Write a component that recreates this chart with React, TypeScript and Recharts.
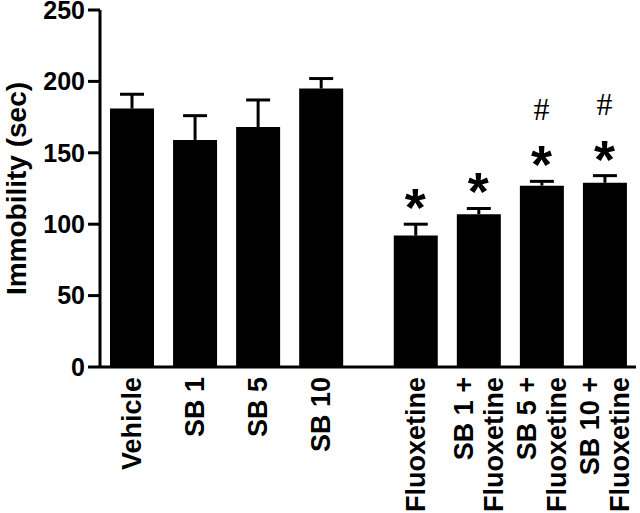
import { BarChart, Bar, XAxis, YAxis, ReferenceDot } from 'recharts'

document.body.style.margin = '0'

const GROUPS = [
  ['Vehicle'],
  ['SB 1'],
  ['SB 5'],
  ['SB 10'],
  ['Fluoxetine'],
  ['SB 1 +', 'Fluoxetine'],
  ['SB 5 +', 'Fluoxetine'],
  ['SB 10 +', 'Fluoxetine'],
]
// x slots, with a wider gap before the fluoxetine groups
const POSITIONS = [1, 2, 3, 4, 5.5, 6.5, 7.5, 8.5]
const MEANS = [181, 159, 168, 195, 92, 107, 127, 129]
const SEMS = [10, 17, 19, 7, 8, 4, 3, 5]
const STAR = [false, false, false, false, true, true, true, true]
const HASH = [false, false, false, false, false, false, true, true]
const Y_TICKS = [0, 50, 100, 150, 200, 250]

const FONT = '"Liberation Sans", Arial, sans-serif'

const data = POSITIONS.map((pos, i) => ({
  pos,
  mean: MEANS[i],
  sem: SEMS[i],
}))

// upper-only error whisker, drawn on the stacked sem segment
function Whisker(props: any) {
  const { x, y, width, height } = props
  if (x == null || y == null) return null
  const cx = x + width / 2
  return (
    <g stroke="#000" strokeWidth={3}>
      <line x1={cx} y1={y + height} x2={cx} y2={y} />
      <line x1={cx - 12} y1={y} x2={cx + 12} y2={y} />
    </g>
  )
}

function GroupTick(props: any) {
  const { x, y, index } = props
  const lines = GROUPS[index] ?? []
  const gap = 30
  return (
    <g>
      {lines.map((line, i) => {
        const lx = x + (i - (lines.length - 1) / 2) * gap
        return (
          <text
            key={i}
            x={lx}
            y={y}
            dy="0.36em"
            textAnchor="end"
            transform={`rotate(-90, ${lx}, ${y})`}
            fontFamily={FONT}
            fontWeight="bold"
            fontSize={27}
            fill="#000"
          >
            {line}
          </text>
        )
      })}
    </g>
  )
}

function YTitle(props: any) {
  const vb = props.viewBox ?? { x: 0, y: 0, height: 0 }
  const cx = 16
  const cy = vb.y + vb.height / 2
  return (
    <text
      x={cx}
      y={cy}
      dy="0.36em"
      textAnchor="middle"
      transform={`rotate(-90, ${cx}, ${cy})`}
      fontFamily={FONT}
      fontWeight="bold"
      fontSize={28}
      fill="#000"
    >
      Immobility (sec)
    </text>
  )
}

function StarMark(props: any) {
  const { x, y } = props.viewBox ?? {}
  return (
    <text x={x} y={y + 2} textAnchor="middle" fontFamily={FONT} fontWeight="bold" fontSize={54} fill="#000">
      *
    </text>
  )
}

function HashMark(props: any) {
  const { x, y } = props.viewBox ?? {}
  return (
    <text x={x} y={y - 61} textAnchor="middle" fontFamily='"Liberation Serif", serif' fontSize={32} fill="#000">
      #
    </text>
  )
}

export default function App() {
  return (
    <BarChart width={640} height={513} data={data} margin={{ top: 10, right: 4, bottom: 0, left: 0 }}>
      <XAxis
        dataKey="pos"
        type="number"
        domain={[0.5, 9]}
        ticks={POSITIONS}
        interval={0}
        height={146}
        tickLine={false}
        tickSize={0}
        tickMargin={10}
        axisLine={{ stroke: '#000', strokeWidth: 3 }}
        tick={<GroupTick />}
      />
      <YAxis
        width={100}
        domain={[0, 250]}
        ticks={Y_TICKS}
        interval={0}
        tickSize={12}
        tickMargin={3}
        axisLine={{ stroke: '#000', strokeWidth: 3 }}
        tickLine={{ stroke: '#000', strokeWidth: 3 }}
        tick={{ fontFamily: FONT, fontWeight: 'bold', fontSize: 25, fill: '#000' }}
        label={<YTitle />}
      />
      <Bar dataKey="mean" stackId="a" fill="#000" barSize={44} isAnimationActive={false} />
      <Bar dataKey="sem" stackId="a" fill="none" barSize={44} shape={<Whisker />} isAnimationActive={false} />
      {POSITIONS.map((pos, i) =>
        STAR[i] ? (
          <ReferenceDot key={`s${i}`} x={pos} y={MEANS[i] + SEMS[i]} r={0} stroke="none" label={<StarMark />} />
        ) : null
      )}
      {POSITIONS.map((pos, i) =>
        HASH[i] ? (
          <ReferenceDot key={`h${i}`} x={pos} y={MEANS[i] + SEMS[i]} r={0} stroke="none" label={<HashMark />} />
        ) : null
      )}
    </BarChart>
  )
}
